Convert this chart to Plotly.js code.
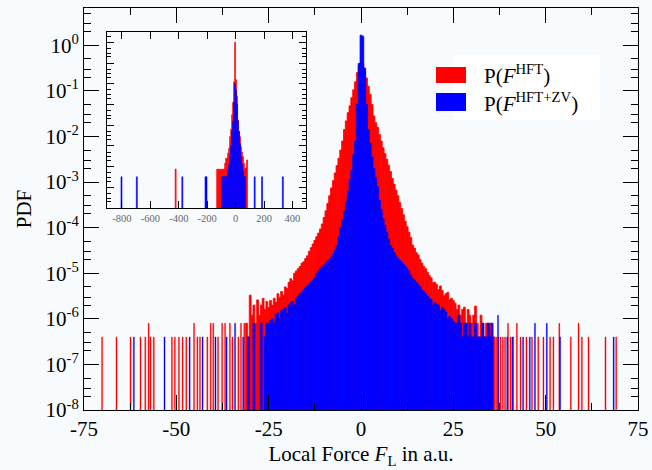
<!DOCTYPE html>
<html><head><meta charset="utf-8">
<script src="https://cdn.plot.ly/plotly-3.0.1.min.js"></script>
<style>html,body{margin:0;padding:0;background:#f7fbfe}</style>
</head><body><div id="chart" style="width:652px;height:470px"></div>
<script>
// ---- main histogram: bin centers (0.5 wide) ----
const binCenters = [-31,-30.5,-30,-29.5,-29,-28.5,-28,-27.5,-27,-26.5,-26,-25.5,
 -25,-24.5,-24,-23.5,-23,-22.5,-22,-21.5,-21,-20.5,-20,-19.5,-19,-18.5,-18,-17.5,-17,-16.5,-16,-15.5,-15,-14.5,-14,-13.5,-13,-12.5,-12,-11.5,-11,-10.5,-10,-9.5,-9,-8.5,-8,-7.5,-7,-6.5,-6,-5.5,-5,-4.5,-4,-3.5,-3,-2.5,-2,-1.5,-1,-0.5,
 0,0.5,1,1.5,2,2.5,3,3.5,4,4.5,5,5.5,6,6.5,7,7.5,8,8.5,9,9.5,10,10.5,11,11.5,12,12.5,13,13.5,14,14.5,15,15.5,16,16.5,17,17.5,18,18.5,19,19.5,20,20.5,21,21.5,22,22.5,23,23.5,24,24.5,25,
 25.5,26,26.5,27,27.5,28,28.5,29,29.5,30,30.5,31,31.5,32,32.5,33,33.5,34,34.5,35,35.5,36];

// P(F^HFT)
const pdfHFT = [8e-7,4e-7,3.3e-6,1.2e-6,2e-6,8e-7,2.6e-6,1.2e-6,2e-6,2.8e-6,1.6e-6,2.4e-6,
 1.78e-6,2.51e-6,2.0e-6,2.82e-6,2.3e-6,3.55e-6,2.9e-6,3.98e-6,3.3e-6,5.01e-6,4.6e-6,6.31e-6,7.59e-6,6.8e-6,1.0e-5,1.12e-5,1.26e-5,1.41e-5,1.66e-5,1.78e-5,2.09e-5,2.40e-5,3.02e-5,3.63e-5,4.37e-5,5.25e-5,6.31e-5,7.59e-5,9.33e-5,1.20e-4,1.66e-4,2.34e-4,3.39e-4,5.01e-4,7.41e-4,1.07e-3,1.58e-3,2.29e-3,3.31e-3,5.01e-3,7.94e-3,1.41e-2,2.19e-2,3.31e-2,4.68e-2,7.08e-2,0.105,0.158,0.251,0.355,
 0.417,0.398,0.282,0.191,0.126,8.32e-2,5.01e-2,2.82e-2,2.0e-2,1.58e-2,1.10e-2,7.94e-3,5.62e-3,4.17e-3,3.16e-3,2.34e-3,1.70e-3,1.20e-3,8.91e-4,6.61e-4,5.01e-4,3.55e-4,2.63e-4,1.91e-4,1.38e-4,1.05e-4,7.94e-5,6.03e-5,4.17e-5,3.55e-5,2.82e-5,2.51e-5,2.0e-5,1.66e-5,1.41e-5,1.26e-5,1.05e-5,8.91e-6,7.94e-6,6.2e-6,6.31e-6,5.62e-6,4.4e-6,5.25e-6,4.17e-6,3.2e-6,3.55e-6,3.80e-6,2.6e-6,2.82e-6,2.51e-6,
 2.2e-6,1.6e-6,2e-6,1.2e-6,1.6e-6,1.8e-6,8e-7,1.6e-6,1.2e-6,8e-7,1.2e-6,1.9e-6,8e-7,4e-7,1.2e-6,8e-7,4e-7,8e-7,4e-7,8e-7,4e-7,4e-7];

// P(F^HFT+ZV)
const pdfHFTZV = [null,4e-7,null,null,8e-7,null,null,null,8e-7,null,4e-7,8e-7,
 7.9e-7,9.3e-7,1.0e-6,8e-7,1.26e-6,1.35e-6,1.0e-6,1.51e-6,1.58e-6,1.74e-6,1.3e-6,2.0e-6,2.24e-6,2.40e-6,2.0e-6,2.82e-6,3.16e-6,3.55e-6,3.80e-6,4.27e-6,4.79e-6,5.25e-6,5.62e-6,6.31e-6,7.08e-6,7.94e-6,1.0e-5,1.12e-5,1.26e-5,1.38e-5,1.51e-5,1.66e-5,1.86e-5,2.0e-5,2.24e-5,2.63e-5,3.16e-5,3.98e-5,6.31e-5,1.0e-4,1.48e-4,2.24e-4,3.55e-4,6.31e-4,1.12e-3,1.82e-3,3.98e-3,7.94e-3,5.01e-2,0.398,
 1.66,1.58,0.316,5.01e-2,1.41e-2,7.08e-3,3.55e-3,2.0e-3,1.26e-3,7.94e-4,3.98e-4,2.51e-4,1.58e-4,1.12e-4,7.94e-5,5.62e-5,3.98e-5,3.55e-5,2.82e-5,2.40e-5,2.09e-5,1.91e-5,1.74e-5,1.58e-5,1.41e-5,1.26e-5,1.12e-5,8.91e-6,7.59e-6,7.08e-6,6.31e-6,5.62e-6,5.01e-6,4.27e-6,3.98e-6,3.55e-6,3.16e-6,2.82e-6,2.63e-6,2.0e-6,2.24e-6,2.09e-6,2.0e-6,1.5e-6,1.78e-6,1.58e-6,1.41e-6,1.0e-6,1.12e-6,1.0e-6,8.9e-7,
 8e-7,8e-7,1.2e-6,8e-7,4e-7,8e-7,8e-7,4e-7,8e-7,4e-7,4e-7,8e-7,4e-7,4e-7,4e-7,8e-7,4e-7,4e-7,8e-7,4e-7,8e-7,null];

// sparse tail events (single narrow bins)
const tailHFT_x = [-70.1,-66.2,-62.4,-59.7,-58.4,-57.5,-57.0,-56.1,-51.2,-50.4,-49.3,-48.3,-47.3,-45.2,-44.3,-43.6,-41.6,-40.7,-40.0,-38.7,-37.6,-36.8,-35.5,-34.8,-33.2,-32.5,-31.6,
 36.6,37.2,37.8,38.4,39.0,39.8,40.5,41.2,42.2,43.2,44.8,46.3,48.0,49.4,51.2,52.1,53.7,56.8,58.9,59.8,61.6,66.2,69.1];
const tailHFT_y = [4e-7,4e-7,4e-7,4e-7,4e-7,8e-7,4e-7,4e-7,4e-7,4e-7,4e-7,4e-7,4e-7,8e-7,4e-7,4e-7,4e-7,8e-7,8e-7,4e-7,8e-7,8e-7,8e-7,4e-7,4e-7,8e-7,8e-7,
 4e-7,4e-7,4e-7,4e-7,4e-7,8e-7,4e-7,4e-7,8e-7,4e-7,4e-7,4e-7,4e-7,4e-7,4e-7,4e-7,8e-7,4e-7,8e-7,4e-7,4e-7,4e-7,4e-7];
const tailHFTZV_x = [-61.5,-53.2,-46.4,-42.9,-39.4,-36.4,-34.1,-31.9,37.1,39.6,41.0,43.9,45.7,47.1,50.3,53.9,68.4];
const tailHFTZV_y = [4e-7,4e-7,4e-7,4e-7,4e-7,4e-7,8e-7,4e-7,1.2e-6,4e-7,4e-7,4e-7,4e-7,8e-7,8e-7,4e-7,4e-7];

// ---- inset (wide range) ----
const insetHFT_x = [-422,-130,-123,-116,-109,-102,-95,-88,-81,-74,-67,-60,-53,-46,-39,-32,-25,-18,-11,-4,3,10,17,24,31,38,45,52,59,66,73,80];
const insetHFT_y = [7.6e-7,7.4e-7,7.4e-7,7.4e-7,7.4e-7,7.4e-7,7.4e-7,7.4e-7,7.4e-7,1.45e-6,2.5e-6,2.5e-6,4.5e-6,7.6e-6,2.75e-5,6.3e-5,3.2e-4,1.26e-3,1.26e-2,1.0,1.58e-2,2.5e-3,1.78e-4,5.0e-5,2.75e-5,9.1e-6,5.0e-6,3.0e-6,1.45e-6,8.3e-7,8.3e-7,2.1e-6];
const insetHFTZV_x = [-803,-695,-375,-212,-205,-95,-88,-81,-74,-67,-60,-53,-46,-39,-32,-25,-18,-11,-4,3,10,17,24,31,38,45,52,59,66,134,186,332];
const insetHFTZV_y = [3.2e-7,3.2e-7,3.2e-7,3.2e-7,3.2e-7,3.2e-7,3.2e-7,3.2e-7,3.2e-7,3.2e-7,3.2e-7,6.3e-7,1.26e-6,3.2e-6,1.0e-5,5.0e-5,1.58e-4,1.26e-3,1.0e-2,5.0e-3,1.0e-3,1.58e-4,5.0e-5,1.26e-5,3.2e-6,1.26e-6,6.3e-7,3.2e-7,3.2e-7,3.2e-7,3.2e-7,3.2e-7];

// ---- tick labels ----
const xTickVals = [-75,-50,-25,0,25,50,75];
const xTickText = ['-75','-50','-25','0','25','50','75'];
const yTickExp = [-8,-7,-6,-5,-4,-3,-2,-1,0];
const insetTickVals = [-800,-600,-400,-200,0,200,400];
const insetTickText = ['-800','-600','-400','-200','0','200','400'];
const legendNames = ['P(<i>F</i><sup>HFT</sup>)', 'P(<i>F</i><sup>HFT+ZV</sup>)'];

const yTickVals = yTickExp.map(e => Math.pow(10, e));
const yTickText = yTickExp.map(e => '10<sup>' + e + '</sup>');
const minorVals = [];
for (let e = -8; e <= 0; e++) [2,3,5].forEach(m => minorVals.push(m * Math.pow(10, e)));

const RED = '#ff0000', BLUE = '#0000ff';
const FONT = 'Liberation Serif';
function bars(x, y, w, c, xa, ya, name, lw) {
  return {type:'bar', x:x, y:y, width:w, name:name, showlegend:false, hoverinfo:'skip',
          marker:{color:c, opacity:1, line:{width:lw, color:c}}, xaxis:xa, yaxis:ya};
}
const traces = [
  bars(binCenters, pdfHFT, 0.5, RED, 'x', 'y', legendNames[0], 0.8),
  bars(tailHFT_x, tailHFT_y, 0.3, RED, 'x', 'y', legendNames[0], 0.3),
  bars(binCenters, pdfHFTZV, 0.5, BLUE, 'x', 'y', legendNames[1], 0.8),
  bars(tailHFTZV_x, tailHFTZV_y, 0.3, BLUE, 'x', 'y', legendNames[1], 0.3),
  bars(insetHFT_x, insetHFT_y, 7, RED, 'x2', 'y2', legendNames[0], 0.6),
  bars(insetHFTZV_x, insetHFTZV_y, 7, BLUE, 'x2', 'y2', legendNames[1], 0.6)
];

const axBase = {showline:true, linecolor:'#000', linewidth:1, mirror:'allticks', ticks:'inside',
  tickcolor:'#000', tickwidth:1, showgrid:false, zeroline:false, automargin:false};
const bigFont = {family:FONT, size:21, color:'#000'};

const layout = {
  width:652, height:470,
  margin:{l:84, r:14, t:8, b:60},
  paper_bgcolor:'#f7fbfe', plot_bgcolor:'#f7fbfe',
  barmode:'overlay', showlegend:false,
  font:bigFont,
  xaxis: Object.assign({}, axBase, {range:[-75,75], tickmode:'array', tickvals:xTickVals, ticktext:xTickText,
    ticklen:15, tickfont:bigFont,
    minor:{ticks:'inside', ticklen:7, tick0:-75, dtick:12.5, tickcolor:'#000'},
    title:{text:'Local Force <i>F</i><sub>L</sub> in a.u.', font:bigFont, standoff:6}}),
  yaxis: Object.assign({}, axBase, {type:'log', range:[-8, 0.816], tickmode:'array', tickvals:yTickVals, ticktext:yTickText,
    ticklen:15, tickfont:bigFont,
    minor:{ticks:'inside', ticklen:7, tickmode:'array', tickvals:minorVals, tickcolor:'#000'},
    title:{text:'PDF', font:bigFont, standoff:8}}),
  xaxis2: Object.assign({}, axBase, {domain:[0.0415, 0.4007], anchor:'y2', range:[-905, 495],
    tickmode:'array', tickvals:insetTickVals, ticktext:insetTickText, ticklen:7,
    tickfont:{family:FONT, size:10.5, color:'#666'}}),
  yaxis2: Object.assign({}, axBase, {domain:[0.5025, 0.9403], anchor:'x2', type:'log', range:[-8, 0.5],
    tickmode:'array', tickvals:yTickVals, showticklabels:false, ticklen:7,
    minor:{ticks:'inside', ticklen:4, tickmode:'array', tickvals:minorVals, tickcolor:'#000'}}),
  shapes:[
    {type:'rect', xref:'paper', yref:'paper', x0:0.666, x1:0.9314, y0:0.7214, y1:0.8831,
     fillcolor:'#ffffff', line:{width:0}, layer:'above'},
    {type:'rect', xref:'paper', yref:'paper', x0:0.6354, x1:0.6895, y0:0.8134, y1:0.8532,
     fillcolor:RED, line:{width:0}, layer:'above'},
    {type:'rect', xref:'paper', yref:'paper', x0:0.6354, x1:0.6895, y0:0.7438, y1:0.7886,
     fillcolor:BLUE, line:{width:0}, layer:'above'}
  ],
  annotations:[
    {xref:'paper', yref:'paper', x:0.7184, y:0.8358, xanchor:'left', yanchor:'middle', showarrow:false,
     text:legendNames[0], font:bigFont},
    {xref:'paper', yref:'paper', x:0.7184, y:0.766, xanchor:'left', yanchor:'middle', showarrow:false,
     text:legendNames[1], font:bigFont}
  ]
};

Plotly.newPlot('chart', traces, layout, {staticPlot:true, displayModeBar:false});
</script></body></html>
